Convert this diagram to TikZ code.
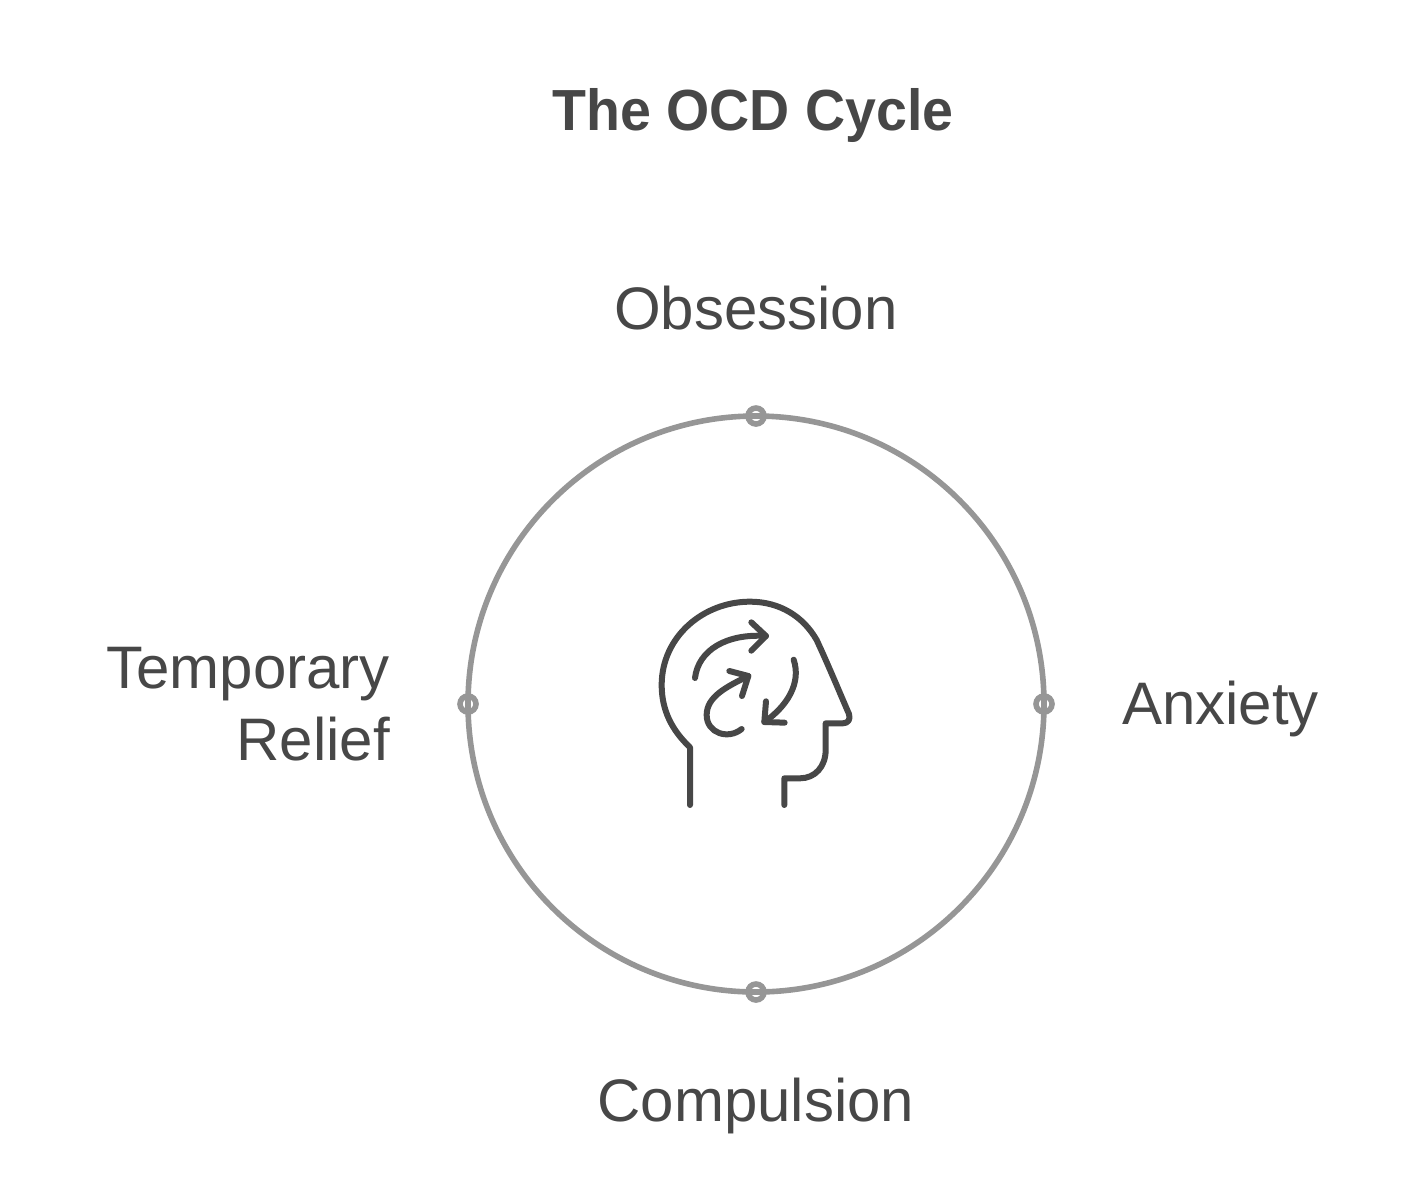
\documentclass[tikz,border=0pt]{standalone}
\usepackage{fontspec}
\setmainfont{Liberation Sans}
\newfontfamily\titlefont[FakeStretch=0.957]{Liberation Sans Bold}
\definecolor{ink}{HTML}{474747}
\definecolor{ring}{HTML}{969696}
\tikzset{
  lab/.style={text=ink,font=\fontsize{60}{72}\selectfont,inner sep=0pt},
  titlelab/.style={text=ink,font=\titlefont\fontsize{58}{72}\selectfont,inner sep=0pt},
  dot/.style={circle,draw=ring,line width=5.6pt,minimum size=16pt,inner sep=0pt},
  bigring/.style={circle,draw=ring,line width=5.6pt,minimum size=576pt,inner sep=0pt},
  iconline/.style={draw=ink,line width=6pt,line cap=round,line join=round}
}
\begin{document}
\begin{tikzpicture}[x=1pt,y=-1pt]
\useasboundingbox (0,0) rectangle (1404,1189);
\node[bigring] (main) at (756,704) {};
\node[dot] (top) at (756,416) {};
\node[dot] (right) at (1044,704) {};
\node[dot] (bottom) at (756,992) {};
\node[dot] (left) at (468,704) {};
\node[titlelab] (title) at (753,116) {The OCD Cycle};
\node[lab] (obs) at (756,308) {Obsession};
\node[lab,anchor=east] (anx) at (1319,709) {Anxiety};
\node[lab] (comp) at (756,1106) {Compulsion};
\node[lab,anchor=east,align=right] (rel) at (390,704) {Temporary\\Relief};
\begin{scope}[shift={(640,590)},x=0.3333pt,y=-0.3333pt]
\path[iconline] (150,645) -- (150,472)
  .. controls (95,420) and (65,360) .. (65,285)
  .. controls (65,140) and (190,35) .. (330,35)
  .. controls (420,35) and (490,80) .. (530,150)
  .. controls (565,225) and (600,310) .. (627,372)
  .. controls (632,388) and (625,400) .. (608,400)
  -- (557,400) -- (557,480)
  .. controls (557,530) and (525,565) .. (480,565)
  -- (433,565) -- (433,645);
\path[iconline] (165,264) .. controls (175,180) and (260,130) .. (378,138);
\path[iconline] (334,97) -- (378,138) -- (334,182);
\path[iconline] (325,258) .. controls (260,290) and (200,320) .. (200,375)
  .. controls (200,430) and (265,450) .. (305,417);
\path[iconline] (268,243) -- (325,258) -- (306,318);
\path[iconline] (461,209) .. controls (485,280) and (440,350) .. (373,396);
\path[iconline] (378,334) -- (373,396) -- (434,398);
\end{scope}
\end{tikzpicture}
\end{document}
